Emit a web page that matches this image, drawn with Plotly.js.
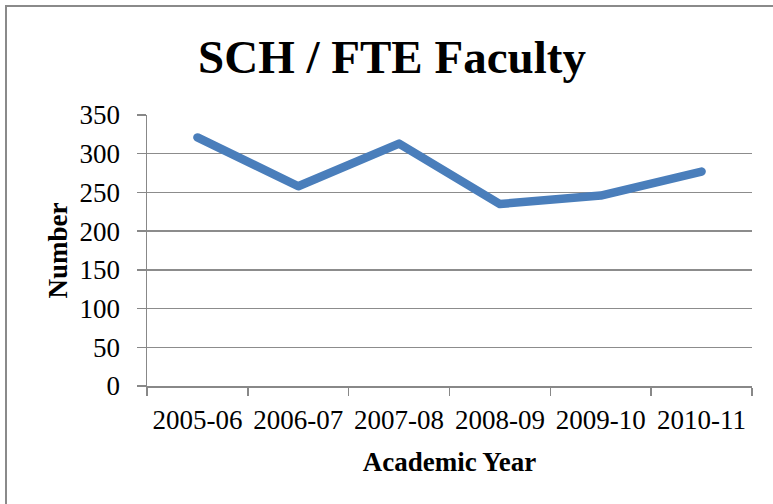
<!DOCTYPE html>
<html>
<head>
<meta charset="utf-8">
<script src="https://cdn.plot.ly/plotly-3.0.1.min.js"></script>
<style>
  html, body { margin: 0; padding: 0; background: #fff; }
  #wrap { position: relative; width: 773px; height: 504px; overflow: hidden; }
  #chart { position: absolute; left: 0; top: 0; width: 773px; height: 504px; }
  #frame { position: absolute; left: 5px; top: 5px; width: 800px; height: 600px;
           border-left: 2px solid #8a8a8a; border-top: 2px solid #8a8a8a; pointer-events: none; }
  .scatterlayer path.js-line { stroke-linecap: round; stroke-linejoin: round; }
</style>
</head>
<body>
<div id="wrap">
  <div id="chart"></div>
  <div id="frame"></div>
</div>
<script>
const categories = ["2005-06", "2006-07", "2007-08", "2008-09", "2009-10", "2010-11"];
const schPerFte = [321, 258, 313, 235, 246, 277];
const yTicks = [0, 50, 100, 150, 200, 250, 300, 350];

const serif = "'Liberation Serif', 'Times New Roman', serif";

const trace = {
  x: categories,
  y: schPerFte,
  type: "scatter",
  mode: "lines",
  line: { color: "#4a7ebb", width: 8.5, shape: "linear" },
  hoverinfo: "x+y"
};

const layout = {
  width: 773,
  height: 504,
  margin: { l: 147, r: 21, t: 115, b: 118 },
  paper_bgcolor: "#ffffff",
  plot_bgcolor: "#ffffff",
  showlegend: false,
  title: {
    text: "<b>SCH / FTE Faculty</b>",
    font: { family: serif, size: 47, color: "#000000" },
    xref: "container", x: 392 / 773, xanchor: "center",
    yref: "container", y: 1 - 57 / 504, yanchor: "middle"
  },
  xaxis: {
    type: "category",
    range: [-0.5, 5.5],
    tickson: "boundaries",
    ticks: "outside",
    ticklen: 8,
    tickcolor: "#888888",
    tickwidth: 1.5,
    ticklabelstandoff: 9,
    showline: true,
    linecolor: "#888888",
    linewidth: 1.5,
    showgrid: false,
    zeroline: false,
    tickfont: { family: serif, size: 27, color: "#000000" },
    title: { text: "<b>Academic Year</b>", font: { family: serif, size: 27, color: "#000000" }, standoff: 18 },
    fixedrange: true
  },
  yaxis: {
    range: [0, 350],
    tickvals: yTicks,
    ticktext: yTicks.map(String),
    ticks: "outside",
    ticklen: 9,
    tickcolor: "#888888",
    tickwidth: 1.5,
    ticklabelstandoff: 11,
    showline: true,
    linecolor: "#888888",
    linewidth: 1.5,
    showgrid: true,
    gridcolor: "#8c8c8c",
    gridwidth: 1.5,
    zeroline: false,
    tickfont: { family: serif, size: 27, color: "#000000" },
    title: { text: "<b>Number</b>", font: { family: serif, size: 27, color: "#000000" }, standoff: 4 },
    fixedrange: true
  }
};

Plotly.newPlot("chart", [trace], layout, { displayModeBar: false, staticPlot: true });
</script>
</body>
</html>
